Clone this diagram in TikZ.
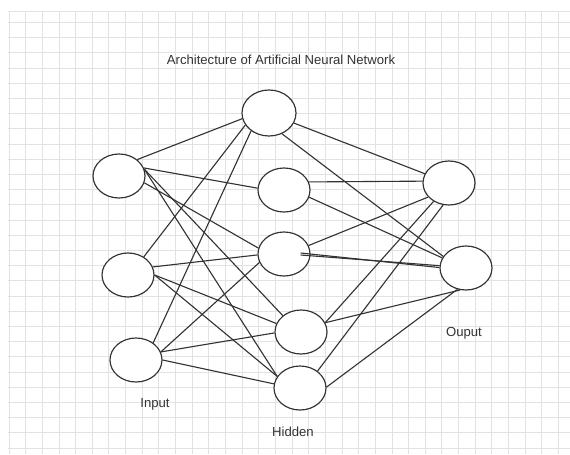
\documentclass[tikz,border=0pt]{standalone}
\usepackage{fontspec}
\setmainfont{Liberation Sans}
\usepackage{tikz}
\usetikzlibrary{arrows,positioning,shapes}
\definecolor{gridgray}{RGB}{226,226,226}
\definecolor{inkgray}{RGB}{51,51,51}

\begin{document}
\begin{tikzpicture}[x=0.03cm,y=-0.03cm,
    every node/.style={font=\fontsize{11.2}{13}\selectfont,text=inkgray},
    neuron/.style={draw=inkgray,fill=white,line width=1pt,ellipse,inner sep=0pt,minimum width=1.56cm,minimum height=1.32cm},
    link/.style={draw=inkgray,line width=0.95pt}]
                \useasboundingbox (0,0) rectangle (570,454);
                \fill[white] (0,0) rectangle (570,454);
                \foreach \gx in {0,...,33}
                    \draw[gridgray,line width=0.7pt] ({9+16.65*\gx},11) -- ({9+16.65*\gx},454);
                \draw[gridgray,line width=0.7pt] (8,11) -- (570,11);
                \foreach \gy in {0,...,28}
                    \draw[gridgray,line width=0.7pt] (8,{22.5+15.2*\gy}) -- (570,{22.5+15.2*\gy});
                \node (title) at (281,60) {Architecture of Artificial Neural Network};
                \node[neuron] (I1) at (119,176) {};
                \node[neuron] (I2) at (128,275) {};
                \node[neuron] (I3) at (136,360) {};
                \node[neuron,minimum width=1.62cm,minimum height=1.38cm] (H1) at (269,113) {};
                \node[neuron] (H2) at (284,190) {};
                \node[neuron] (H3) at (284,254) {};
                \node[neuron] (H4) at (301,332) {};
                \node[neuron] (H5) at (300,388) {};
                \node[neuron] (O1) at (449,183) {};
                \node[neuron] (O2) at (466,268) {};
                \node (inlbl) at (155,404) {Input};
                \node (hidlbl) at (293,432) {Hidden};
                \node (outlbl) at (464,333) {Ouput};
                \draw[link] (I1.42) -- (H1.192);
                \draw[link] (I1.18) -- (H2.176);
                \draw[link] (I1.345) -- (H3.167);
                \draw[link] (I1.15) -- (H4.138);
                \draw[link] (I1.15) -- (H5.153);
                \draw[link] (I2.49) -- (H1.207);
                \draw[link] (I2.18) -- (H3.182);
                \draw[link] (I2.0) -- (H4.161);
                \draw[link] (I2.0) -- (H5.153);
                \draw[link] (I3.45) -- (H1.225);
                \draw[link] (I3.18) -- (H3.199);
                \draw[link] (I3.18) -- (H4.182);
                \draw[link] (I3.0) -- (H5.171);
                \draw[link] (H1.338) -- (O1.159);
                \draw[link] (H1.302) -- (O2.153);
                \draw[link] (H2.18) -- (O1.176);
                \draw[link] (H2.344) -- (O2.157);
                \draw[link] (H3.19) -- (O1.214);
                \draw[link] ([xshift=-0.3cm,yshift=0.03cm]H3.east) -- (O2.179);
                \draw[link] ([xshift=-0.3cm,yshift=-0.03cm]H3.east) -- (O2.175);
                \draw[link] (H4.21) -- (O1.230);
                \draw[link] (H4.21) -- (O2.255);
                \draw[link] (H5.44) -- (O1.255);
                \draw[link] (H5.2) -- (O2.248);
            \end{tikzpicture}
\end{document}
